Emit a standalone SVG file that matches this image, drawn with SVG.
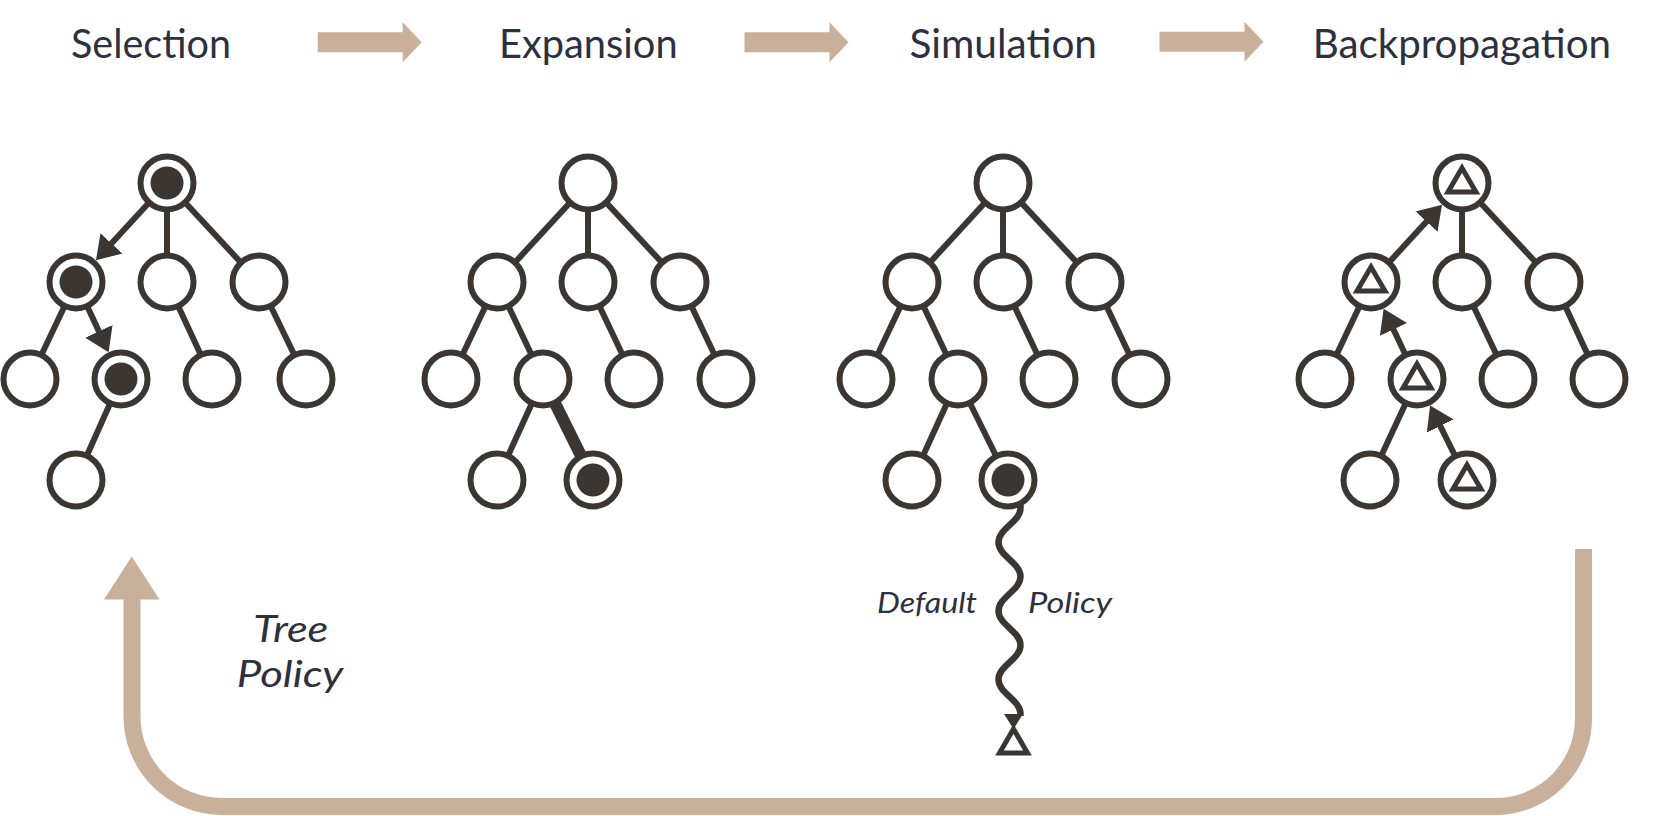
<svg xmlns="http://www.w3.org/2000/svg" xmlns:xlink="http://www.w3.org/1999/xlink" width="1672" height="816" viewBox="0 0 1672 816">
<style>
.n{fill:#fff;stroke:#3b3632;stroke-width:6}
.dot{fill:#3b3632}
.tri{fill:none;stroke:#3b3632;stroke-width:5;stroke-linejoin:miter}
.e{stroke:#3b3632;stroke-width:6;fill:none}
.tan{fill:#c8b09a}
.loop{fill:none;stroke:#c8b09a;stroke-width:17}
.title{font-family:Lato,"Noto Sans",sans-serif;font-size:41px;fill:#2c3040}
.it{font-family:Lato,"Noto Sans",sans-serif;font-style:italic;fill:#2c3040}
</style>
<defs>
<marker id="ah" markerUnits="userSpaceOnUse" markerWidth="23" markerHeight="30" refX="13" refY="15" orient="auto" viewBox="0 0 23 30"><path d="M0,0 L23,15 L0,30 z" fill="#3b3632"/></marker>
<path id="tri" d="M0,-15 L14,9 L-14,9 Z"/>
<path id="fwd" d="M0,-10 H85 V-20 L104,0 L85,20 V10 H0 Z"/>
</defs>

<g id="titles">
<text class="title" x="71" y="58" textLength="160" lengthAdjust="spacingAndGlyphs">Selection</text>
<text class="title" x="499" y="58" textLength="178.6" lengthAdjust="spacingAndGlyphs">Expansion</text>
<text class="title" x="909.5" y="58" textLength="187.5" lengthAdjust="spacingAndGlyphs">Simulation</text>
<text class="title" x="1312.7" y="58" textLength="298.3" lengthAdjust="spacingAndGlyphs">Backpropagation</text>
</g>

<g id="stage-arrows">
<use xlink:href="#fwd" class="tan" transform="translate(317.7,42.3)"/>
<use xlink:href="#fwd" class="tan" transform="translate(744.5,42.3)"/>
<use xlink:href="#fwd" class="tan" transform="translate(1159.5,41.7)"/>
</g>

<g id="connectors">
<!-- Selection tree -->
<line class="e" x1="167" y1="183" x2="102.73" y2="252.92" marker-end="url(#ah)"/>
<line class="e" x1="167" y1="183" x2="167" y2="282"/>
<line class="e" x1="167" y1="183" x2="259" y2="282"/>
<line class="e" x1="76" y1="282" x2="30" y2="379"/>
<line class="e" x1="76" y1="282" x2="104.38" y2="343.17" marker-end="url(#ah)"/>
<line class="e" x1="167" y1="282" x2="212" y2="379"/>
<line class="e" x1="259" y1="282" x2="306" y2="379"/>
<line class="e" x1="121" y1="379" x2="76" y2="480"/>
<!-- Expansion tree -->
<line class="e" x1="588" y1="183" x2="497" y2="282"/>
<line class="e" x1="588" y1="183" x2="588" y2="282"/>
<line class="e" x1="588" y1="183" x2="680" y2="282"/>
<line class="e" x1="497" y1="282" x2="451" y2="379"/>
<line class="e" x1="497" y1="282" x2="543" y2="379"/>
<line class="e" x1="588" y1="282" x2="634" y2="379"/>
<line class="e" x1="680" y1="282" x2="726" y2="379"/>
<line class="e" x1="543" y1="379" x2="497" y2="480"/>
<line class="e" x1="543" y1="379" x2="593" y2="480" style="stroke-width:12"/>
<!-- Simulation tree -->
<line class="e" x1="1003" y1="183" x2="912" y2="282"/>
<line class="e" x1="1003" y1="183" x2="1003" y2="282"/>
<line class="e" x1="1003" y1="183" x2="1095" y2="282"/>
<line class="e" x1="912" y1="282" x2="866" y2="379"/>
<line class="e" x1="912" y1="282" x2="958" y2="379"/>
<line class="e" x1="1003" y1="282" x2="1049" y2="379"/>
<line class="e" x1="1095" y1="282" x2="1141" y2="379"/>
<line class="e" x1="958" y1="379" x2="912" y2="480"/>
<line class="e" x1="958" y1="379" x2="1008" y2="480"/>
<path class="e" style="stroke-width:6.5" d="M1020.5,500 L1020.5,508 C1020.5,521.7 998.5,528.6 998.5,542.3 C998.5,556 1020.5,562.9 1020.5,576.6 C1020.5,590.3 998.5,597.2 998.5,610.9 C998.5,624.6 1020.5,631.5 1020.5,645.2 C1020.5,658.9 998.5,665.8 998.5,679.5 C998.5,693.2 1020.5,700.1 1020.5,713.8 L1020.5,716"/>
<polygon class="dot" points="1004,714 1023,714 1013.5,729"/>
<!-- Backpropagation tree -->
<line class="e" x1="1371" y1="282" x2="1435.27" y2="212.08" marker-end="url(#ah)"/>
<line class="e" x1="1462" y1="183" x2="1462" y2="282"/>
<line class="e" x1="1462" y1="183" x2="1554" y2="282"/>
<line class="e" x1="1371" y1="282" x2="1325" y2="379"/>
<line class="e" x1="1417" y1="379" x2="1387.93" y2="317.69" marker-end="url(#ah)"/>
<line class="e" x1="1462" y1="282" x2="1508" y2="379"/>
<line class="e" x1="1554" y1="282" x2="1599" y2="379"/>
<line class="e" x1="1417" y1="379" x2="1370" y2="480"/>
<line class="e" x1="1467" y1="480" x2="1434.53" y2="414.40" marker-end="url(#ah)"/>
<!-- loop back arrow -->
<path class="loop" d="M1583.5,549 V718.5 A88,88 0 0 1 1495.5,806.5 H222 A90,90 0 0 1 132,716.5 V598"/>
<polygon class="tan" points="104,599.5 159.5,599.5 131.75,556.5"/>
</g>

<g id="labels">
<text class="it" x="877" y="613.3" font-size="28" textLength="100" lengthAdjust="spacingAndGlyphs">Default</text>
<text class="it" x="1028" y="613.3" font-size="28" textLength="84" lengthAdjust="spacingAndGlyphs">Policy</text>
<text class="it" x="253.3" y="641.7" font-size="36" textLength="75" lengthAdjust="spacingAndGlyphs">Tree</text>
<text class="it" x="236.7" y="686.7" font-size="36" textLength="106.6" lengthAdjust="spacingAndGlyphs">Policy</text>
</g>

<!-- Selection nodes -->
<g id="s0"><circle class="n" cx="167" cy="183" r="26.5"/><circle class="dot" cx="167" cy="183" r="16.5"/></g>
<g id="s1a"><circle class="n" cx="76" cy="282" r="26.5"/><circle class="dot" cx="76" cy="282" r="16.5"/></g>
<g id="s1b"><circle class="n" cx="167" cy="282" r="26.5"/></g>
<g id="s1c"><circle class="n" cx="259" cy="282" r="26.5"/></g>
<g id="s2a"><circle class="n" cx="30" cy="379" r="26.5"/></g>
<g id="s2b"><circle class="n" cx="121" cy="379" r="26.5"/><circle class="dot" cx="121" cy="379" r="16.5"/></g>
<g id="s2c"><circle class="n" cx="212" cy="379" r="26.5"/></g>
<g id="s2d"><circle class="n" cx="306" cy="379" r="26.5"/></g>
<g id="s3a"><circle class="n" cx="76" cy="480" r="26.5"/></g>

<!-- Expansion nodes -->
<g id="e0"><circle class="n" cx="588" cy="183" r="26.5"/></g>
<g id="e1a"><circle class="n" cx="497" cy="282" r="26.5"/></g>
<g id="e1b"><circle class="n" cx="588" cy="282" r="26.5"/></g>
<g id="e1c"><circle class="n" cx="680" cy="282" r="26.5"/></g>
<g id="e2a"><circle class="n" cx="451" cy="379" r="26.5"/></g>
<g id="e2b"><circle class="n" cx="543" cy="379" r="26.5"/></g>
<g id="e2c"><circle class="n" cx="634" cy="379" r="26.5"/></g>
<g id="e2d"><circle class="n" cx="726" cy="379" r="26.5"/></g>
<g id="e3a"><circle class="n" cx="497" cy="480" r="26.5"/></g>
<g id="e3b"><circle class="n" cx="593" cy="480" r="26.5"/><circle class="dot" cx="593" cy="480" r="16.5"/></g>

<!-- Simulation nodes -->
<g id="m0"><circle class="n" cx="1003" cy="183" r="26.5"/></g>
<g id="m1a"><circle class="n" cx="912" cy="282" r="26.5"/></g>
<g id="m1b"><circle class="n" cx="1003" cy="282" r="26.5"/></g>
<g id="m1c"><circle class="n" cx="1095" cy="282" r="26.5"/></g>
<g id="m2a"><circle class="n" cx="866" cy="379" r="26.5"/></g>
<g id="m2b"><circle class="n" cx="958" cy="379" r="26.5"/></g>
<g id="m2c"><circle class="n" cx="1049" cy="379" r="26.5"/></g>
<g id="m2d"><circle class="n" cx="1141" cy="379" r="26.5"/></g>
<g id="m3a"><circle class="n" cx="912" cy="480" r="26.5"/></g>
<g id="m3b"><circle class="n" cx="1008" cy="480" r="26.5"/><circle class="dot" cx="1008" cy="480" r="16.5"/></g>
<g id="m-terminal"><use xlink:href="#tri" class="tri" x="1013.5" y="744"/></g>

<!-- Backpropagation nodes -->
<g id="b0"><circle class="n" cx="1462" cy="183" r="26.5"/><use xlink:href="#tri" class="tri" x="1462" y="183"/></g>
<g id="b1a"><circle class="n" cx="1371" cy="282" r="26.5"/><use xlink:href="#tri" class="tri" x="1371" y="282"/></g>
<g id="b1b"><circle class="n" cx="1462" cy="282" r="26.5"/></g>
<g id="b1c"><circle class="n" cx="1554" cy="282" r="26.5"/></g>
<g id="b2a"><circle class="n" cx="1325" cy="379" r="26.5"/></g>
<g id="b2b"><circle class="n" cx="1417" cy="379" r="26.5"/><use xlink:href="#tri" class="tri" x="1417" y="379"/></g>
<g id="b2c"><circle class="n" cx="1508" cy="379" r="26.5"/></g>
<g id="b2d"><circle class="n" cx="1599" cy="379" r="26.5"/></g>
<g id="b3a"><circle class="n" cx="1370" cy="480" r="26.5"/></g>
<g id="b3b"><circle class="n" cx="1467" cy="480" r="26.5"/><use xlink:href="#tri" class="tri" x="1467" y="480"/></g>
</svg>
